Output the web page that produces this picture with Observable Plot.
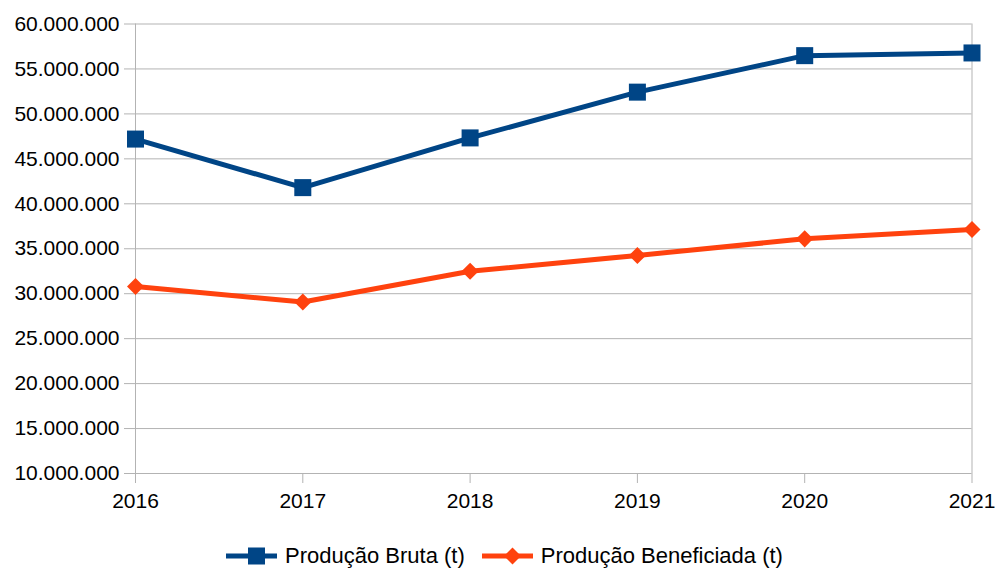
<!DOCTYPE html>
<html>
<head>
<meta charset="utf-8">
<script src="https://cdn.jsdelivr.net/npm/d3@7"></script>
<script src="https://cdn.jsdelivr.net/npm/@observablehq/plot@0.6"></script>
<style>
  html, body { margin: 0; padding: 0; background: #fff; }
  body { width: 995px; height: 568px; overflow: hidden; position: relative; font-family: "Liberation Sans", Arial, sans-serif; }
  #legend { position: absolute; left: 226px; top: 543px; height: 26px; display: flex; align-items: center; font-size: 22px; color: #000; white-space: nowrap; }
  .item { display: flex; align-items: center; }
  .item svg { margin-right: 8px; }
  .item + .item { margin-left: 17px; }
</style>
</head>
<body>
<div id="chart"></div>
<div id="legend"></div>
<script>
const years = [2016, 2017, 2018, 2019, 2020, 2021];
const bruta = [47200000, 41800000, 47330000, 52420000, 56480000, 56780000];
const beneficiada = [30800000, 29070000, 32500000, 34260000, 36100000, 37150000];
const seriesNames = ["Produção Bruta (t)", "Produção Beneficiada (t)"];
const colors = ["#004586", "#ff420e"];
const yTicks = [10e6, 15e6, 20e6, 25e6, 30e6, 35e6, 40e6, 45e6, 50e6, 55e6, 60e6];

const fmt = v => d3.format(",")(v).replace(/,/g, ".");
const dBruta = years.map((y, i) => ({year: y, value: bruta[i]}));
const dBenef = years.map((y, i) => ({year: y, value: beneficiada[i]}));

const chart = Plot.plot({
  width: 995,
  height: 520,
  marginLeft: 135,
  marginRight: 23.5,
  marginTop: 23.5,
  marginBottom: 47,
  style: {fontFamily: "Liberation Sans, Arial, sans-serif", fontSize: "21px", color: "#000", background: "#fff"},
  x: {domain: [2016, 2021], label: null},
  y: {domain: [10e6, 60e6], label: null},
  marks: [
    Plot.gridY(yTicks, {stroke: "#b3b3b3", strokeOpacity: 1, strokeWidth: 1}),
    Plot.ruleX([2016, 2021], {stroke: "#b3b3b3", strokeWidth: 1}),
    Plot.axisX({ticks: years, tickFormat: d => String(d), tickSize: 10, tickPadding: 10, stroke: "#b3b3b3", fill: "#000", label: null}),
    Plot.axisY({ticks: yTicks, tickFormat: fmt, tickSize: 11, tickPadding: 5, stroke: "#b3b3b3", fill: "#000", label: null}),
    Plot.line(dBruta, {x: "year", y: "value", stroke: colors[0], strokeWidth: 5, strokeLinejoin: "round"}),
    Plot.line(dBenef, {x: "year", y: "value", stroke: colors[1], strokeWidth: 5, strokeLinejoin: "round"}),
    Plot.dot(dBruta, {x: "year", y: "value", symbol: "square", r: 9.6, fill: colors[0], stroke: "none"}),
    Plot.dot(dBenef, {x: "year", y: "value", symbol: "square", r: 6.8, rotate: 45, fill: colors[1], stroke: "none"})
  ]
});
document.getElementById("chart").appendChild(chart);

const legend = document.getElementById("legend");
const symbols = [
  '<rect x="22" y="4.5" width="17" height="17" fill="' + colors[0] + '"/>',
  '<rect x="24.5" y="7" width="12" height="12" fill="' + colors[1] + '" transform="rotate(45 30.5 13)"/>'
];
seriesNames.forEach((name, i) => {
  const item = document.createElement("div");
  item.className = "item";
  item.innerHTML = '<svg width="51" height="26"><line x1="0" y1="13" x2="51" y2="13" stroke="' + colors[i] + '" stroke-width="5"/>' + symbols[i] + '</svg><span>' + name + '</span>';
  legend.appendChild(item);
});
</script>
</body>
</html>
